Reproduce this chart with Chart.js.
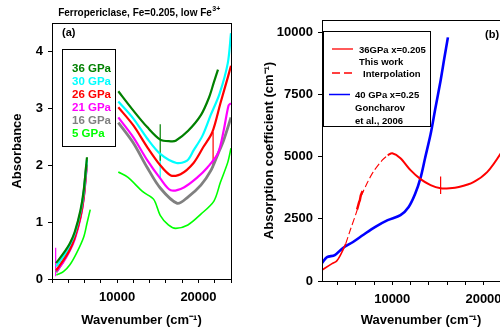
<!DOCTYPE html>
<html>
<head>
<meta charset="utf-8">
<script src="https://cdn.jsdelivr.net/npm/chart.js@4.4.0/dist/chart.umd.min.js"></script>
<style>
  html, body { margin: 0; padding: 0; background: #fff; overflow: hidden; width: 500px; height: 330px; }
  #boxA { position: absolute; left: 0; top: 0; }
  #boxB { position: absolute; left: 250px; top: 0; }
</style>
</head>
<body>
<div id="boxA"><canvas id="chartA" width="250" height="330"></canvas></div>
<div id="boxB"><canvas id="chartB" width="300" height="330"></canvas></div>
<script>
// ticks
const xTicksA = [2000, 4000, 6000, 8000, 10000, 12000, 14000, 16000, 18000, 20000, 22000, 24000];
const yTicksA = [0, 1, 2, 3, 4];
const xTicksB = [4000, 6000, 8000, 10000, 12000, 14000, 16000, 18000, 20000, 22000, 24000];
const yTicksB = [0, 2500, 5000, 7500, 10000];
const xLabels = [10000, 20000];

// panel (a): absorbance, [wavenumber, value]
const low36  = [[2500, 0.28], [3400, 0.45], [4200, 0.63], [4800, 0.83], [5500, 1.21], [5900, 1.56], [6300, 2.14]];
const high36 = [[10150, 3.30], [12000, 2.96], [13700, 2.67], [15300, 2.45], [16600, 2.42], [17200, 2.43], [18700, 2.60], [20300, 2.88], [21300, 3.19], [21900, 3.46], [22400, 3.68]];
const low30  = [[2500, 0.22], [3400, 0.40], [4200, 0.60], [4800, 0.80], [5500, 1.18], [5900, 1.52], [6300, 2.10]];
const high30 = [[10150, 3.12], [12000, 2.82], [13700, 2.47], [15300, 2.20], [17300, 2.04], [18600, 2.08], [19400, 2.26], [20500, 2.52], [21500, 2.88], [22600, 3.26], [23600, 3.79], [24000, 4.32]];
const low26  = [[2500, 0.15], [3400, 0.33], [4200, 0.52], [4800, 0.73], [5500, 1.10], [5900, 1.45], [6250, 2.00]];
const high26 = [[10150, 3.02], [12000, 2.70], [13700, 2.32], [15300, 2.00], [16600, 1.82], [17800, 1.84], [19400, 2.04], [20600, 2.32], [21700, 2.58], [22700, 3.09], [23600, 3.54], [24000, 3.75]];
const low21  = [[2600, 0.14], [3400, 0.30], [4200, 0.50], [4800, 0.70], [5500, 1.07], [5900, 1.42], [6250, 1.95]];
const high21 = [[10150, 2.84], [12000, 2.49], [13700, 2.09], [15300, 1.77], [16600, 1.56], [18200, 1.61], [19900, 1.79], [21100, 1.96], [22400, 2.21], [23100, 2.61], [23700, 3.05], [24000, 3.09]];
const low16  = [[2500, 0.12], [3400, 0.32], [4200, 0.54], [4800, 0.75], [5500, 1.12], [5900, 1.48], [6250, 2.02]];
const high16 = [[10150, 2.75], [12000, 2.39], [13700, 1.96], [15300, 1.60], [17400, 1.33], [18700, 1.44], [20300, 1.65], [21500, 1.90], [22400, 2.20], [23100, 2.44], [24000, 2.84]];
const low5   = [[2550, 0.07], [3400, 0.13], [4200, 0.25], [5000, 0.45], [5900, 0.74], [6300, 0.98], [6700, 1.22]];
const high5  = [[10150, 1.88], [11300, 1.79], [13200, 1.53], [14500, 1.40], [15300, 1.12], [16300, 0.95], [17200, 0.89], [18700, 0.95], [20300, 1.14], [21900, 1.37], [22700, 1.70], [23600, 2.05], [24000, 2.30]];
const spike36 = [[15300, 2.08], [15300, 2.72]];
const spike30 = [[15300, 1.77], [15300, 2.21]];
const spike26 = [[21800, 1.96], [21800, 2.58]];
const spike21 = [[2450, 0.05], [2450, 0.55]];

// panel (b): absorption coefficient
const blue40    = [[2300, 720], [2850, 960], [3700, 1040], [4600, 1330], [5700, 1570], [6800, 1850], [8100, 2170], [9500, 2450], [10900, 2650], [11800, 2980], [12500, 3500], [13100, 4150], [13600, 4950], [14200, 5900], [14700, 6900], [15300, 8070], [15700, 8950], [16100, 9800]];
const redLow    = [[2300, 440], [3400, 700], [3900, 800], [4400, 1100], [4900, 1500]];
const redInterp = [[4900, 1500], [5400, 2050], [6150, 2850], [6500, 3330], [7250, 3940], [7900, 4380], [8900, 4860], [9500, 5060]];
const redNoisy  = [[6150, 2880], [6350, 3150], [6450, 3250], [6550, 3450], [6750, 3620]];
const redHigh   = [[9500, 5060], [10000, 5140], [10900, 4940], [12000, 4460], [13100, 4100], [14200, 3860], [15300, 3730], [16300, 3730], [17300, 3780], [18900, 3980], [20400, 4380], [21900, 5140], [22700, 5700], [23500, 6300]];
const spikeRed  = [[15300, 3500], [15300, 4200]];

Chart.defaults.font.family = "'Liberation Sans', Arial, sans-serif";
Chart.defaults.font.weight = 'bold';
Chart.defaults.color = '#000';

const FONT = "'Liberation Sans', Arial, sans-serif";

function pts(arr) {
    return arr.map(p => ({x: p[0], y: p[1]}));
}

function gap(low, high) {
    return pts(low).concat([{x: 8000, y: null}], pts(high));
}

function line(data, color, width, extra) {
    return Object.assign({data: data, borderColor: color, borderWidth: width, pointRadius: 0, fill: false, tension: 0.3}, extra || {});
}

function axisX(ticks, h, min, max) {
    return {
        type: 'linear', min: min, max: max,
        afterBuildTicks: s => { s.ticks = ticks.map(v => ({value: v})); },
        afterFit: s => { s.height = h; },
        ticks: {
            autoSkip: false, maxRotation: 0, padding: 7, color: '#000',
            font: {size: 13, weight: 'bold'},
            callback: v => xLabels.includes(v) ? String(v) : ''
        },
        grid: {drawOnChartArea: false, tickLength: 4, color: '#000'},
        border: {color: '#000', width: 1},
        title: {display: true, text: 'Wavenumber (cm⁻¹)', color: '#000', font: {size: 13, weight: 'bold'}, padding: {top: 0, bottom: 2}}
    };
}

function axisY(ticks, w, max, text, pad) {
    return {
        type: 'linear', min: 0, max: max,
        afterBuildTicks: s => { s.ticks = ticks.map(v => ({value: v})); },
        afterFit: s => { s.width = w; },
        ticks: {padding: 5, color: '#000', font: {size: 13, weight: 'bold'}, callback: v => String(v)},
        grid: {drawOnChartArea: false, tickLength: 4, color: '#000'},
        border: {color: '#000', width: 1},
        title: {display: true, text: text, color: '#000', font: {size: 13, weight: 'bold'}, padding: {top: pad, bottom: 0}}
    };
}

function box(ctx, a) {
    ctx.save();
    ctx.strokeStyle = '#000';
    ctx.lineWidth = 1;
    ctx.strokeRect(Math.round(a.left) + 0.5, Math.round(a.top) + 0.5, Math.round(a.right - a.left), Math.round(a.bottom - a.top));
    ctx.restore();
}

// ---- panel (a)
const legendA = ['36 GPa', '30 GPa', '26 GPa', '21 GPa', '16 GPa', '5 GPa'];
const colorsA = ['#008000', '#00ffff', '#ff0000', '#ff00ff', '#808080', '#00ff00'];

const notesA = {
    id: 'notesA',
    afterDraw(chart) {
        const ctx = chart.ctx;
        box(ctx, chart.chartArea);
        ctx.save();
        ctx.fillStyle = '#000';
        ctx.textBaseline = 'middle';
        // title with superscript
        const main = 'Ferropericlase, Fe=0.205, low Fe';
        ctx.font = 'bold 10px ' + FONT;
        const w1 = ctx.measureText(main).width;
        ctx.font = 'bold 7px ' + FONT;
        const w2 = ctx.measureText('3+').width;
        const x0 = 139 - (w1 + w2) / 2;
        ctx.font = 'bold 10px ' + FONT;
        ctx.fillText(main, x0, 13);
        ctx.font = 'bold 7px ' + FONT;
        ctx.fillText('3+', x0 + w1 + 0.5, 9);

        ctx.font = 'bold 11px ' + FONT;
        ctx.fillText('(a)', 62, 33);

        ctx.strokeStyle = '#000';
        ctx.lineWidth = 1;
        ctx.strokeRect(62.5, 49.5, 53, 97);
        ctx.font = 'bold 11.5px ' + FONT;
        legendA.forEach((t, i) => {
            ctx.fillStyle = colorsA[i];
            ctx.fillText(t, 72, 69 + i * 13);
        });
        ctx.restore();
    }
};

const setsA = [
    line(gap(low36, high36), colorsA[0], 2.2),
    line(gap(low30, high30), colorsA[1], 2.2),
    line(gap(low26, high26), colorsA[2], 2.2),
    line(gap(low21, high21), colorsA[3], 2.2),
    line(gap(low16, high16), colorsA[4], 2.8),
    line(gap(low5, high5), colorsA[5], 1.6),
    line(pts(spike36), colorsA[0], 1.2, {tension: 0}),
    line(pts(spike30), colorsA[1], 1.2, {tension: 0}),
    line(pts(spike26), colorsA[2], 1.2, {tension: 0}),
    line(pts(spike21), colorsA[3], 1.2, {tension: 0})
];

new Chart('chartA', {
    type: 'line',
    data: {datasets: setsA},
    options: {
        responsive: false,
        animation: false,
        layout: {padding: {top: 23, right: 19, left: 0, bottom: 0}},
        plugins: {legend: {display: false}, tooltip: {enabled: false}},
        scales: {
            x: axisX(xTicksA, 51, 2000, 24000),
            y: axisY(yTicksA, 52, 4.5, 'Absorbance', 10)
        }
    },
    plugins: [notesA]
});

// ---- panel (b)
const notesB = {
    id: 'notesB',
    afterDraw(chart) {
        const ctx = chart.ctx;
        box(ctx, chart.chartArea);
        ctx.save();
        ctx.fillStyle = '#000';
        ctx.textBaseline = 'middle';
        ctx.font = 'bold 11px ' + FONT;
        ctx.fillText('(b)', 235, 35);

        ctx.strokeStyle = '#000';
        ctx.lineWidth = 1;
        ctx.strokeRect(73.5, 31.5, 107, 95);

        ctx.strokeStyle = 'rgb(255, 0, 0)';
        ctx.lineWidth = 1.3;
        ctx.beginPath(); ctx.moveTo(82, 49); ctx.lineTo(103, 49); ctx.stroke();
        ctx.setLineDash([8, 4]);
        ctx.beginPath(); ctx.moveTo(82, 73); ctx.lineTo(103, 73); ctx.stroke();
        ctx.setLineDash([]);
        ctx.strokeStyle = 'rgb(0, 0, 255)';
        ctx.lineWidth = 1.5;
        ctx.beginPath(); ctx.moveTo(79, 94.5); ctx.lineTo(100, 94.5); ctx.stroke();

        ctx.font = 'bold 9.5px ' + FONT;
        ctx.fillText('36GPa x=0.205', 109, 50);
        ctx.fillText('This work', 109, 62);
        ctx.fillText('Interpolation', 113, 74);
        ctx.fillText('40 GPa x=0.25', 105, 95);
        ctx.fillText('Goncharov', 105, 108);
        ctx.fillText('et al., 2006', 105, 121);
        ctx.restore();
    }
};

const setsB = [
    line(pts(redLow), '#ff0000', 1.6),
    line(pts(redInterp), '#ff0000', 1.1, {borderDash: [7, 3]}),
    line(pts(redNoisy), '#ff0000', 2.4, {tension: 0}),
    line(pts(redHigh), '#ff0000', 2),
    line(pts(spikeRed), '#ff0000', 1.2, {tension: 0}),
    line(pts(blue40), '#0000ff', 2.6)
];

new Chart('chartB', {
    type: 'line',
    data: {datasets: setsB},
    options: {
        responsive: false,
        animation: false,
        layout: {padding: {top: 20, right: 30, left: 0, bottom: 0}},
        plugins: {legend: {display: false}, tooltip: {enabled: false}},
        scales: {
            x: axisX(xTicksB, 49, 2300, 24000),
            y: axisY(yTicksB, 72, 10500, 'Absorption coefficient (cm⁻¹)', 12)
        }
    },
    plugins: [notesB]
});
</script>
</body>
</html>
